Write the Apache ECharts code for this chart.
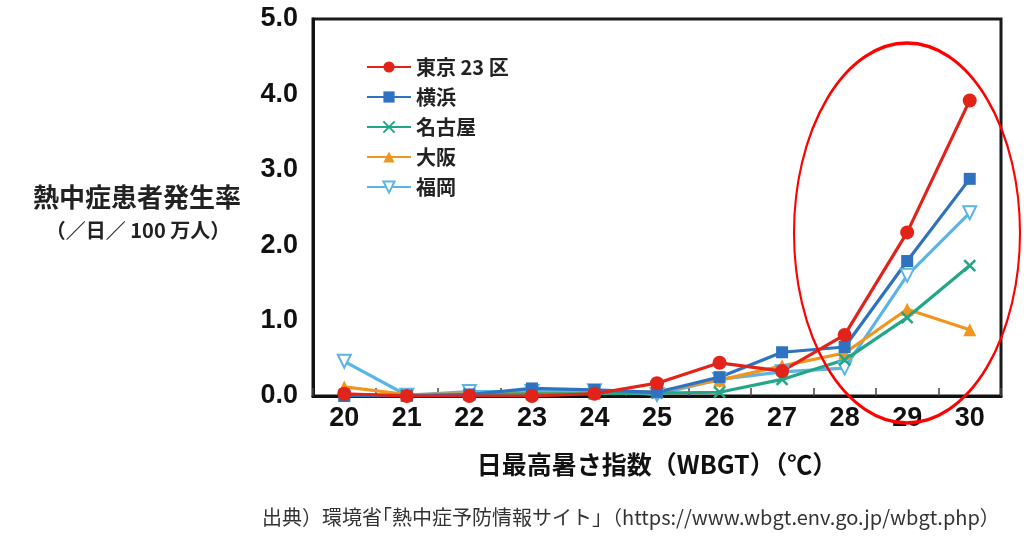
<!DOCTYPE html>
<html><head><meta charset="utf-8">
<script src="https://cdn.jsdelivr.net/npm/echarts@6/dist/echarts.min.js"></script>
<style>html,body{margin:0;padding:0;background:#fff}#c{width:1024px;height:539px}</style>
</head><body><div id="c"></div>
<script>
const categories = ['20','21','22','23','24','25','26','27','28','29','30'];
const tokyo    = [0.03, 0.00, 0.00, 0.00, 0.03, 0.17, 0.44, 0.33, 0.81, 2.17, 3.92];
const yokohama = [0.00, 0.00, 0.02, 0.10, 0.08, 0.05, 0.25, 0.58, 0.65, 1.79, 2.88];
const nagoya   = [0.02, 0.01, 0.02, 0.03, 0.03, 0.04, 0.05, 0.22, 0.48, 1.04, 1.73];
const osaka    = [0.12, 0.02, 0.03, 0.03, 0.04, 0.06, 0.21, 0.40, 0.57, 1.15, 0.88];
const fukuoka  = [0.46, 0.01, 0.06, 0.06, 0.07, 0.02, 0.22, 0.32, 0.37, 1.60, 2.43];
const seriesNames = ['東京 23 区', '横浜', '名古屋', '大阪', '福岡'];
const yTicks = ['0.0','1.0','2.0','3.0','4.0','5.0'];

const FONT = '"Liberation Sans", "Noto Sans CJK JP", sans-serif';
const JFONT = '"Noto Sans CJK JP", "Liberation Sans", sans-serif';
const C = {red:'#e2231a', blue:'#2e72c0', green:'#22a688', orange:'#f0961e', light:'#5ab4e6'};

const chart = echarts.init(document.getElementById('c'), null, {renderer:'canvas'});
function line(name, data, color, extra) {
  return Object.assign({
    name, type:'line', data, z: 2,
    lineStyle:{color, width:3.2},
    itemStyle:{color},
    symbolSize: 12,
  }, extra || {});
}
chart.setOption({
  animation:false,
  grid:{left:313, right:23, top:19, bottom:143, show:true, borderColor:'#1a1a1a', borderWidth:3},
  legend:{
    orient:'vertical', left:361, top:52, itemWidth:44, itemHeight:14, itemGap:10,
    textStyle:{fontFamily:JFONT, fontWeight:'bold', fontSize:20, color:'#222'},
    data: seriesNames
  },
  xAxis:{
    type:'category', data:categories, boundaryGap:true,
    axisLine:{lineStyle:{color:'#111', width:3}},
    axisTick:{show:true, inside:true, length:8, lineStyle:{color:'#444', width:1.5}},
    axisLabel:{fontFamily:FONT, fontWeight:'bold', fontSize:27, color:'#111', margin:9},
    name:'日最高暑さ指数（WBGT）（℃）', nameLocation:'middle', nameGap:56,
    nameTextStyle:{fontFamily:JFONT, fontWeight:'bold', fontSize:25, color:'#111'}
  },
  yAxis:{
    type:'value', min:0, max:5, interval:1,
    splitLine:{show:false}, axisTick:{show:false},
    axisLine:{show:true, lineStyle:{color:'#111', width:3}},
    axisLabel:{fontFamily:FONT, fontWeight:'bold', fontSize:27, color:'#111', margin:15,
      formatter:(v)=>yTicks[Math.round(v)]}
  },
  series:[
    line(seriesNames[4], fukuoka, C.light, {symbol:'triangle', symbolRotate:180, symbolSize:13,
      itemStyle:{color:'#fff', borderColor:C.light, borderWidth:2}}),
    line(seriesNames[3], osaka, C.orange, {symbol:'triangle', symbolSize:13}),
    line(seriesNames[2], nagoya, C.green, {symbol:'path://M0,0L10,10M10,0L0,10', symbolSize:11,
      itemStyle:{color:'none', borderColor:C.green, borderWidth:2.5}}),
    line(seriesNames[1], yokohama, C.blue, {symbol:'rect', symbolSize:12}),
    line(seriesNames[0], tokyo, C.red, {symbol:'circle', symbolSize:14}),
  ],
  graphic:[
    {type:'text', x:137, y:197, style:{text:'熱中症患者発生率', font:'bold 26px '+JFONT, fill:'#222', textAlign:'center', textVerticalAlign:'middle'}},
    {type:'text', x:138, y:230, style:{text:'（／日／ 100 万人）', font:'bold 20px '+JFONT, fill:'#222', textAlign:'center', textVerticalAlign:'middle'}},
    {type:'text', x:262, y:517, style:{text:'出典）環境省｢熱中症予防情報サイト｣（https://www.wbgt.env.go.jp/wbgt.php）', font:'20px '+JFONT, fill:'#333', textVerticalAlign:'middle'}},
    {type:'circle', x:907, y:233, scaleX:113/190, scaleY:1, z:100,
      shape:{cx:0, cy:0, r:190}, style:{fill:'none', stroke:'#ff0000', lineWidth:3.5, strokeNoScale:true}}
  ]
});
</script></body></html>
